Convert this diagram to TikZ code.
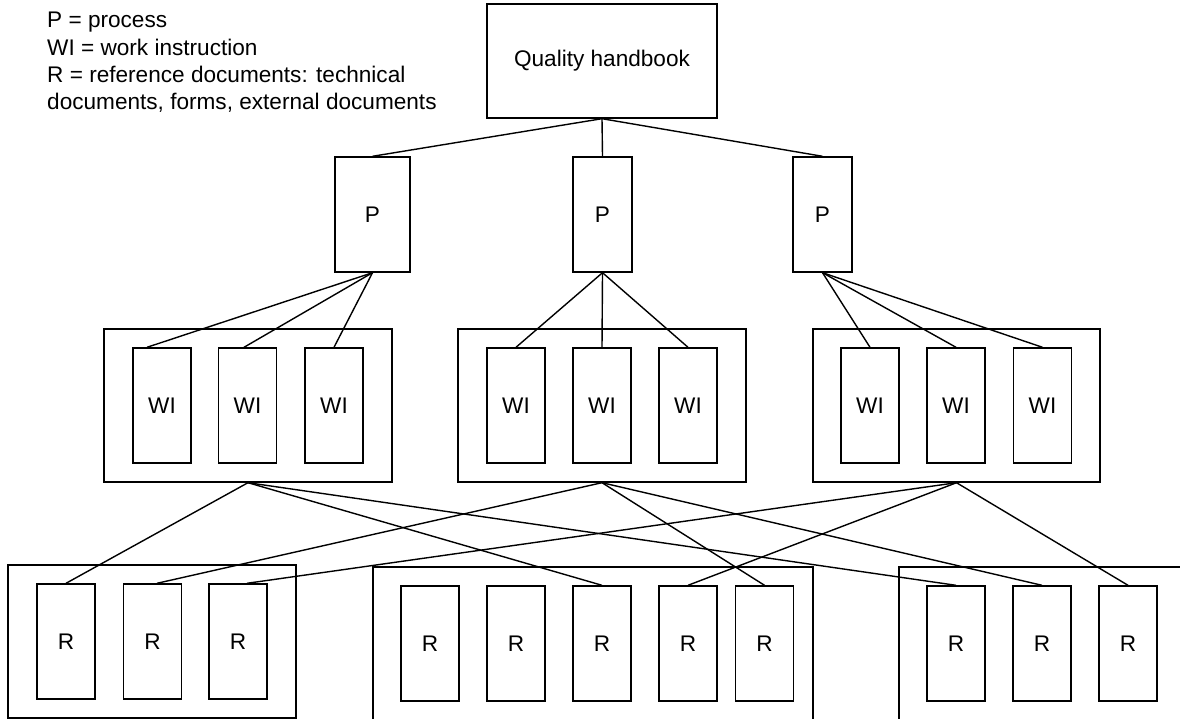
\documentclass[tikz,border=0pt]{standalone}
\usepackage{fontspec}
\setmainfont{Liberation Sans}
\usetikzlibrary{calc}

\begin{document}
\begin{tikzpicture}[x=1pt,y=-1pt,
  box/.style={draw=black, line width=1.4pt, inner sep=0pt, font=\fontsize{22.6}{26}\selectfont},
  doc/.style={box, minimum width=58pt, minimum height=115pt},
  group/.style={box, minimum height=153pt},
  link/.style={draw=black, line width=1.4pt}]
\useasboundingbox (0,0) rectangle (1180,719);
\clip (0,0) rectangle (1180,719);

% legend
\node[anchor=north west, inner sep=0pt, align=left,
      font=\fontsize{22.6}{27.4}\selectfont] (legend) at (47,12)
  {P = process\\WI = work instruction\\R = reference documents: technical\\documents, forms, external documents};

% top level
\node[box, minimum width=230pt, minimum height=114pt] (qh) at (602,61) {Quality handbook};

% processes
\node[box, minimum width=75pt, minimum height=115pt] (p1) at (372.5,214.5) {P};
\node[box, minimum width=59pt, minimum height=115pt] (p2) at (602.5,214.5) {P};
\node[box, minimum width=59pt, minimum height=115pt] (p3) at (822.5,214.5) {P};

% work instruction groups
\node[group, minimum width=288pt] (g1) at (248,405.5) {};
\node[group, minimum width=288pt] (g2) at (602,405.5) {};
\node[group, minimum width=287pt] (g3) at (956.5,405.5) {};

\node[doc] (w11) at (162,405.5) {WI};
\node[doc] (w12) at (247.5,405.5) {WI};
\node[doc] (w13) at (334,405.5) {WI};
\node[doc] (w21) at (516,405.5) {WI};
\node[doc] (w22) at (602,405.5) {WI};
\node[doc] (w23) at (688,405.5) {WI};
\node[doc] (w31) at (870,405.5) {WI};
\node[doc] (w32) at (956,405.5) {WI};
\node[doc] (w33) at (1042.5,405.5) {WI};

% reference document groups
\node[group, minimum width=288pt] (h1) at (152,641.5) {};
\node[box, minimum width=440pt, minimum height=154pt] (h2) at (593,644) {};
\node[box, minimum width=291pt, minimum height=154pt] (h3) at (1044.5,644) {};

\node[doc] (r11) at (66,641.5) {R};
\node[doc] (r12) at (152.5,641.5) {R};
\node[doc] (r13) at (238,641.5) {R};
\node[doc] (r21) at (430,643.5) {R};
\node[doc] (r22) at (516,643.5) {R};
\node[doc] (r23) at (602,643.5) {R};
\node[doc] (r24) at (688,643.5) {R};
\node[doc] (r25) at (764.5,643.5) {R};
\node[doc] (r31) at (956,643.5) {R};
\node[doc] (r32) at (1042,643.5) {R};
\node[doc] (r33) at (1128,643.5) {R};

% handbook to processes
\draw[link] (qh.south) -- (p1.north);
\draw[link] (qh.south) -- (p2.north);
\draw[link] (qh.south) -- (p3.north);

% processes to work instructions
\coordinate (w11t) at ($(w11.north)+(-15,0)$);
\coordinate (w12t) at ($(w12.north)+(-3.5,0)$);
\draw[link] (p1.south) -- (w11t);
\draw[link] (p1.south) -- (w12t);
\draw[link] (p1.south) -- (w13.north);
\draw[link] (p2.south) -- (w21.north);
\draw[link] (p2.south) -- (w22.north);
\draw[link] (p2.south) -- (w23.north);
\draw[link] (p3.south) -- (w31.north);
\draw[link] (p3.south) -- (w32.north);
\draw[link] (p3.south) -- (w33.north);

% work instruction groups to reference documents
\coordinate (r12t) at ($(r12.north)+(4.5,0)$);
\coordinate (r13t) at ($(r13.north)+(9,0)$);
\draw[link] (g1.south) -- (r11.north);
\draw[link] (g1.south) -- (r23.north);
\draw[link] (g1.south) -- (r31.north);
\draw[link] (g2.south) -- (r12t);
\draw[link] (g2.south) -- (r25.north);
\draw[link] (g2.south) -- (r32.north);
\draw[link] (g3.south) -- (r13t);
\draw[link] (g3.south) -- (r24.north);
\draw[link] (g3.south) -- (r33.north);
\end{tikzpicture}
\end{document}
